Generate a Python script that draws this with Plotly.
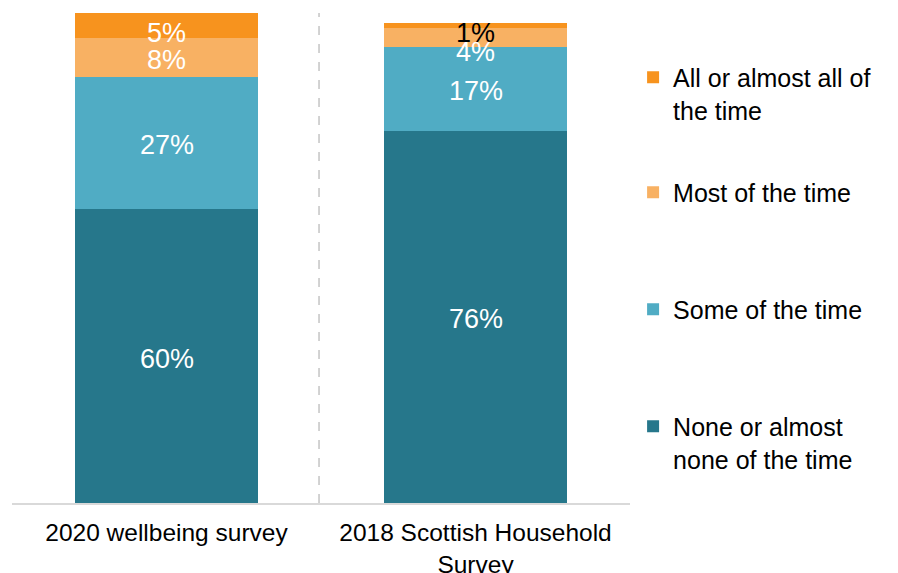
import plotly.graph_objects as go

# Survey categories and share of respondents (%) by frequency
categories = ["2020 wellbeing survey", "2018 Scottish Household<br>Survey"]
none_time = [60, 76]
some_time = [27, 17]
most_time = [8, 4]
all_time = [5, 1]

series = [
    ("None or almost<br>none of the time", none_time, "#26778B", "legend4"),
    ("Some of the time", some_time, "#50ACC4", "legend3"),
    ("Most of the time", most_time, "#F8B163", "legend2"),
    ("All or almost all of<br>the time", all_time, "#F7931E", "legend"),
]

FONT = "Liberation Sans, Arial, sans-serif"

fig = go.Figure()
for name, vals, color, leg in series:
    fig.add_trace(go.Bar(
        x=categories, y=vals, name=name, legend=leg,
        marker=dict(color=color, line=dict(width=0)),
        textposition="none", hoverinfo="skip",
    ))

# value labels centred in each segment; small segments nudged so they don't collide
BASE_SHIFT = -2.5
nudge = {("Most of the time", 1): -14, ("All or almost all of<br>the time", 0): -8,
         ("All or almost all of<br>the time", 1): -8}
annotations = []
for ci, cat in enumerate(categories):
    base = 0
    for name, vals, color, leg in series:
        v = vals[ci]
        mid = base + v / 2
        base += v
        is_tiny = v <= 1
        annotations.append(dict(
            x=cat, y=mid, xref="x", yref="y", text=f"{v}%", showarrow=False,
            yshift=nudge.get((name, ci), BASE_SHIFT),
            font=dict(family=FONT, size=27, color="#000000" if is_tiny else "#FFFFFF"),
        ))

# dashed separator between the two surveys
shapes = [dict(type="line", xref="paper", yref="paper", x0=0.4968, x1=0.4968, y0=0, y1=1,
               line=dict(color="#A6A6A6", width=1, dash="dash"))]

legend_common = dict(
    font=dict(family=FONT, size=25, color="#000000"),
    bgcolor="rgba(0,0,0,0)", valign="top", xanchor="left", yanchor="top",
    itemclick=False, itemdoubleclick=False,
)

PLOT_TOP, PLOT_H = 13, 490


def legend_y(first_line_px):
    return 1 - (first_line_px - PLOT_TOP - 23.5) / PLOT_H


fig.update_layout(
    width=898, height=573,
    margin=dict(l=12, r=268, t=PLOT_TOP, b=573 - PLOT_TOP - PLOT_H, autoexpand=False),
    paper_bgcolor="#FFFFFF", plot_bgcolor="#FFFFFF",
    barmode="stack", bargap=0.408,
    showlegend=True,
    font=dict(family=FONT, color="#000000"),
    xaxis=dict(
        showline=True, linecolor="#D9D9D9", linewidth=2, showgrid=False,
        ticks="", tickfont=dict(family=FONT, size=24.5, color="#000000"),
        ticklabelstandoff=7, automargin=False,
        range=[-0.5, 1.5], fixedrange=True,
    ),
    yaxis=dict(range=[0, 100], visible=False, fixedrange=True),
    legend=dict(x=1.005, y=legend_y(78), **legend_common),
    legend2=dict(x=1.005, y=legend_y(193), **legend_common),
    legend3=dict(x=1.005, y=legend_y(310), **legend_common),
    legend4=dict(x=1.005, y=legend_y(427), **legend_common),
    annotations=annotations,
    shapes=shapes,
)

fig.write_html("out.html")
